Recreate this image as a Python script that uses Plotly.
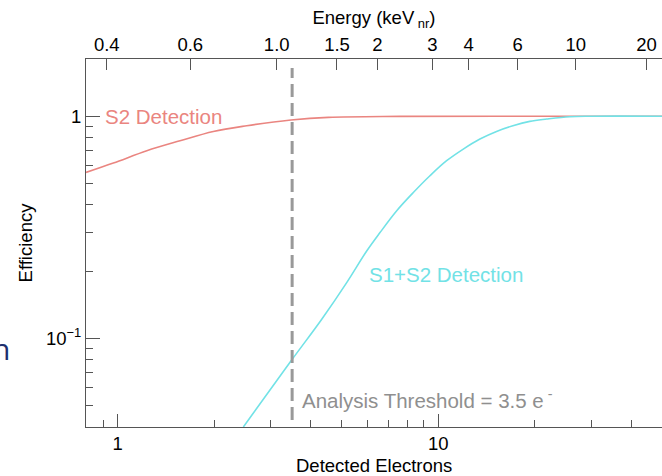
import math
import plotly.graph_objects as go

# ---------------- data ----------------
S2_ELECTRONS = [0.796, 0.969, 1.232, 1.564, 1.987, 2.526, 3.471, 4.54, 7.6, 15.5, 50]
S2_EFFICIENCY = [0.558, 0.615, 0.699, 0.775, 0.854, 0.906, 0.961, 0.988, 0.998, 1.0, 1.0]

S1S2_ELECTRONS = [2.465, 3.47, 4.33, 5.18, 5.98, 6.58, 7.42, 8.36, 9.42, 10.62, 11.97,
                  13.49, 15.2, 17.1, 19.3, 21.8, 25.7, 30, 50]
S1S2_EFFICIENCY = [0.0398, 0.0789, 0.1217, 0.178, 0.247, 0.299, 0.375, 0.453, 0.539, 0.630,
                   0.711, 0.789, 0.854, 0.906, 0.948, 0.971, 0.995, 1.0, 1.0]

THRESHOLD = 3.5

# top axis: energy labels and their positions in detected-electron units
ENERGY_TICK_LABELS = ["0.4", "0.6", "1.0", "1.5", "2", "3", "4", "6", "10", "20"]
ENERGY_TICK_ELECTRONS = [0.924, 1.684, 3.133, 4.831, 6.463, 9.579, 12.44, 17.69, 26.84, 44.67]

X_MAJOR = [1, 10]
X_MINOR = [0.9, 2, 3, 4, 5, 6, 7, 8, 9, 20, 30, 40]
Y_MAJOR = [0.1, 1]
Y_MAJOR_TEXT = ["10<sup>\u22121</sup>", "1"]
Y_MINOR = [0.05, 0.06, 0.07, 0.08, 0.09, 0.2, 0.3, 0.4, 0.5, 0.6, 0.7, 0.8, 0.9]

X_RANGE = [0.796, 49.9]
Y_RANGE = [0.0398, 1.81]

# ---------------- style ----------------
FONT = "Liberation Sans, Arial, Helvetica, sans-serif"
S2_COLOR = "#ea8580"
S1S2_COLOR = "#72e2e6"
THR_COLOR = "#999999"
AXIS_COLOR = "#555555"
AX_FS = 18.5
ANN_FS = 20.5

fig = go.Figure()

fig.add_trace(go.Scatter(x=S2_ELECTRONS, y=S2_EFFICIENCY, mode="lines",
                         line=dict(color=S2_COLOR, width=1.6, shape="spline"),
                         showlegend=False, hoverinfo="skip"))
fig.add_trace(go.Scatter(x=S1S2_ELECTRONS, y=S1S2_EFFICIENCY, mode="lines",
                         line=dict(color=S1S2_COLOR, width=1.6, shape="spline"),
                         showlegend=False, hoverinfo="skip"))
fig.add_trace(go.Scatter(x=[THRESHOLD, THRESHOLD], y=[0.0428, 1.65], mode="lines",
                         line=dict(color=THR_COLOR, width=3, dash="13px,6px"),
                         showlegend=False, hoverinfo="skip"))
# invisible trace to activate top axis
fig.add_trace(go.Scatter(x=[X_RANGE[0]], y=[Y_RANGE[0]], xaxis="x2", mode="markers",
                         marker=dict(opacity=0), showlegend=False, hoverinfo="skip"))

fig.update_layout(
    width=662, height=476,
    margin=dict(l=86, r=0, t=59, b=49),
    paper_bgcolor="white", plot_bgcolor="white",
    font=dict(family=FONT, size=AX_FS, color="black"),
    xaxis=dict(
        type="log", range=[math.log10(X_RANGE[0]), math.log10(X_RANGE[1])],
        tickmode="array", tickvals=X_MAJOR, ticktext=["1", "10"],
        ticks="inside", ticklen=13, tickwidth=1, tickcolor=AXIS_COLOR,
        minor=dict(tickmode="array", tickvals=X_MINOR, ticks="inside", ticklen=7,
                   tickwidth=1, tickcolor=AXIS_COLOR, showgrid=False),
        showline=True, linecolor=AXIS_COLOR, linewidth=1,
        showgrid=False, zeroline=False,
        ticklabelstandoff=0,
        tickfont=dict(size=AX_FS),
    ),
    xaxis2=dict(
        type="log", range=[math.log10(X_RANGE[0]), math.log10(X_RANGE[1])],
        overlaying="x", side="top", anchor="y",
        tickmode="array", tickvals=ENERGY_TICK_ELECTRONS, ticktext=ENERGY_TICK_LABELS,
        ticks="inside", ticklen=11, tickwidth=1, tickcolor=AXIS_COLOR,
        showline=True, linecolor=AXIS_COLOR, linewidth=1,
        showgrid=False, zeroline=False,
        title=dict(text="Energy (keV<sub> nr</sub>)", standoff=4, font=dict(size=AX_FS)),
        tickfont=dict(size=AX_FS),
    ),
    yaxis=dict(
        type="log", range=[math.log10(Y_RANGE[0]), math.log10(Y_RANGE[1])],
        tickmode="array", tickvals=Y_MAJOR, ticktext=Y_MAJOR_TEXT,
        ticks="inside", ticklen=14, tickwidth=1, tickcolor=AXIS_COLOR,
        minor=dict(tickmode="array", tickvals=Y_MINOR, ticks="inside", ticklen=7,
                   tickwidth=1, tickcolor=AXIS_COLOR, showgrid=False),
        showline=True, linecolor=AXIS_COLOR, linewidth=1,
        showgrid=False, zeroline=False,
        title=dict(text="Efficiency", standoff=8, font=dict(size=AX_FS)),
        tickfont=dict(size=AX_FS),
    ),
)

# bottom axis title
fig.add_annotation(x=0.5, y=0, xref="paper", yref="paper", yshift=-38,
                   text="Detected Electrons", showarrow=False,
                   xanchor="center", yanchor="middle",
                   font=dict(color="black", size=AX_FS, family=FONT))

fig.add_annotation(x=math.log10(0.898), y=math.log10(1.0), xref="x", yref="y",
                   text="S2 Detection", showarrow=False, xanchor="left", yanchor="middle",
                   font=dict(color=S2_COLOR, size=ANN_FS, family=FONT))
fig.add_annotation(x=math.log10(6.0), y=math.log10(0.193), xref="x", yref="y",
                   text="S1+S2 Detection", showarrow=False, xanchor="left", yanchor="middle",
                   font=dict(color=S1S2_COLOR, size=ANN_FS, family=FONT))
fig.add_annotation(x=math.log10(3.70), y=math.log10(0.0533), xref="x", yref="y",
                   text="Analysis Threshold = 3.5 e<sup> -</sup>", showarrow=False,
                   xanchor="left", yanchor="middle",
                   font=dict(color="#8f8f8f", size=ANN_FS, family=FONT))
fig.add_annotation(x=0.0, y=0.212, xref="paper", yref="paper",
                   text="n", showarrow=False, xanchor="right", yanchor="middle",
                   xshift=-74, font=dict(color="#1f2f6e", size=30, family="Open Sans, sans-serif"))

fig.write_html("out.html")
